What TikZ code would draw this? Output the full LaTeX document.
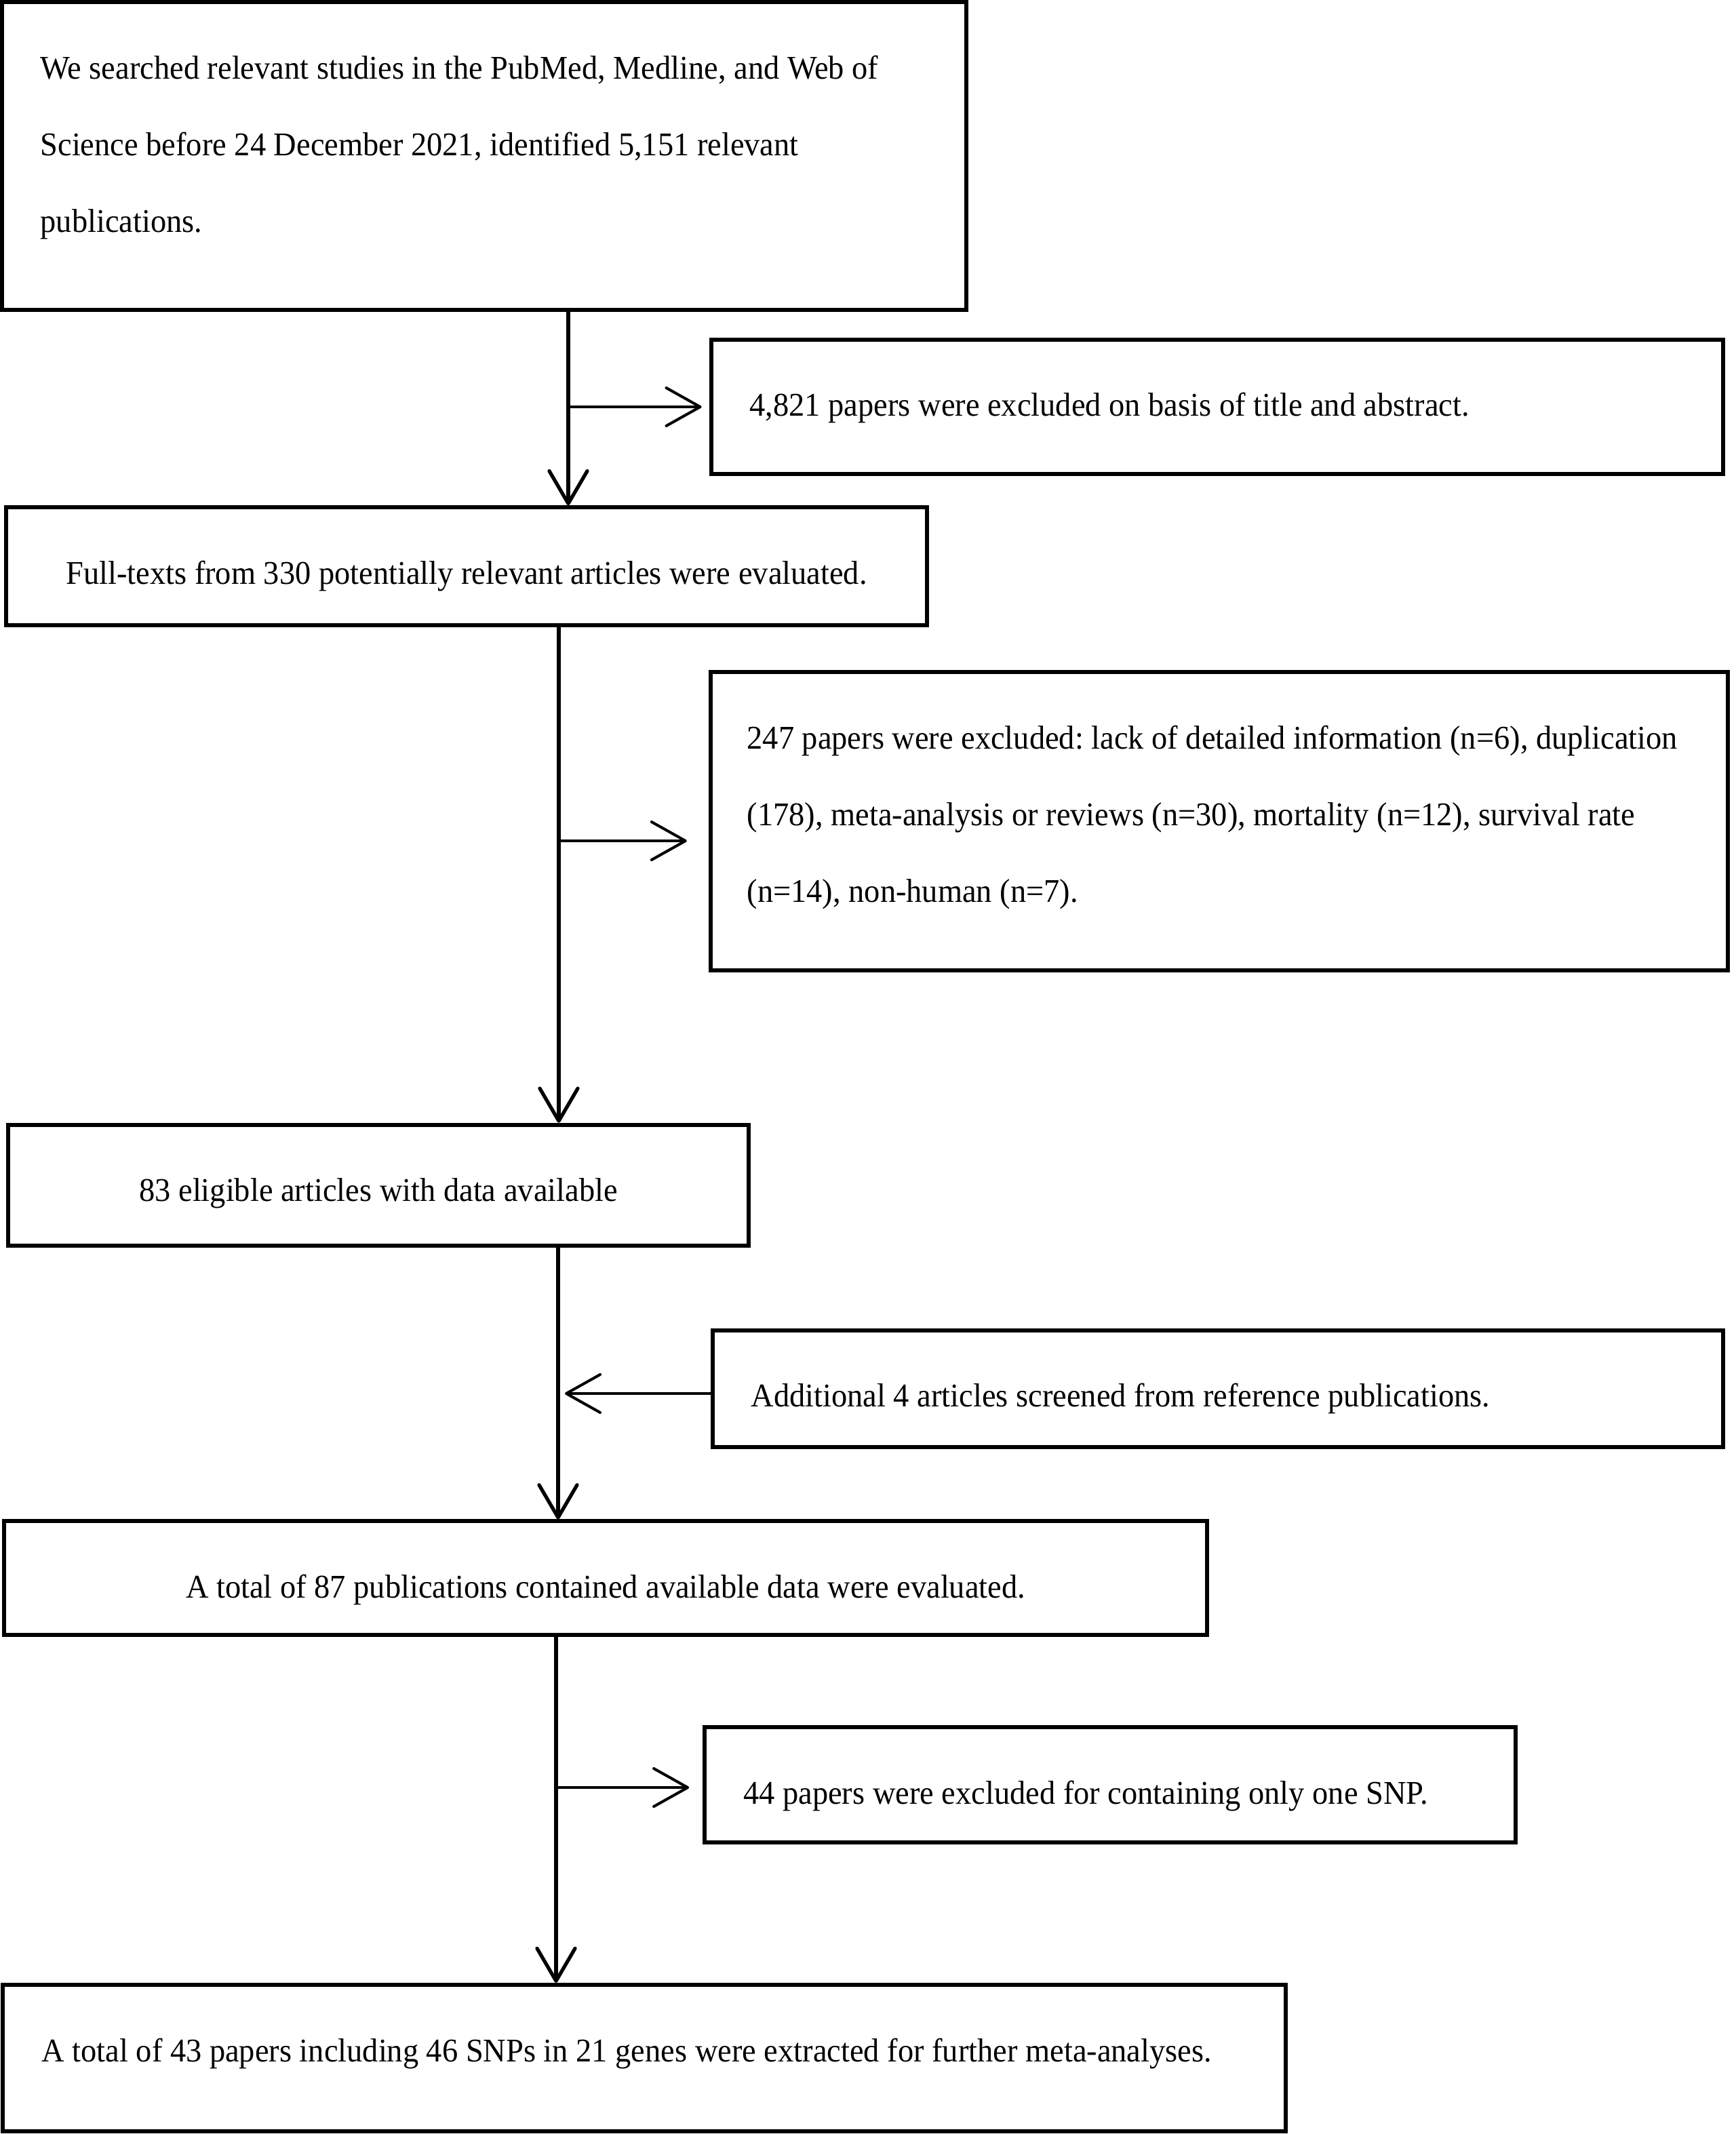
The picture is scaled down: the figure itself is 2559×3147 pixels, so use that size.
\documentclass[tikz,border=0pt]{standalone}
\usepackage{fontspec}
\setmainfont{Liberation Serif}[FakeStretch=0.95]
\usepackage{tikz}
\usetikzlibrary{arrows.meta,positioning,calc}
\hyphenpenalty=10000
\frenchspacing

\begin{document}
\begin{tikzpicture}[x=0.01cm,y=-0.01cm,
  box/.style={draw,line width=1.7pt,rectangle,inner sep=0pt,font=\fontsize{13.9}{32}\selectfont},
  leftbox/.style={box,align=flush left},
  midbox/.style={box,align=center},
  trunk/.style={line width=1.5pt,-{Straight Barb[length=4.8mm,width=5.6mm,round]}},
  branch/.style={line width=1.15pt,-{Straight Barb[length=5mm,width=5.6mm,round]}}]
  \useasboundingbox (0,0) rectangle (2559,3147);
  % boxes
  \node[leftbox,minimum width=14.22cm,minimum height=4.535cm,text width=13.08cm,text height=0pt,text depth=2.26cm] (search) at (714,230)
    {We searched relevant studies in the PubMed, Medline, and Web of\\Science before 24 December 2021, identified 5,151 relevant\\publications.};
  \node[leftbox,minimum width=14.92cm,minimum height=1.98cm,text width=13.78cm,text height=0.26cm,text depth=0pt] (excl1) at (1795,600)
    {4,821 papers were excluded on basis of title and abstract.};
  \node[midbox,minimum width=13.58cm,minimum height=1.735cm,text height=0.52cm,text depth=0pt] (fulltext) at (688,835)
    {Full-texts from 330 potentially relevant articles were evaluated.};
  \node[leftbox,minimum width=14.995cm,minimum height=4.395cm,text width=13.92cm,text height=0pt,text depth=2.12cm] (excl2) at (1798,1211)
    {247 papers were excluded: lack of detailed information (n=6), duplication\\(178), meta-analysis or reviews (n=30), mortality (n=12), survival rate\\(n=14), non-human (n=7).};
  \node[midbox,minimum width=10.905cm,minimum height=1.785cm,text height=0.46cm,text depth=0pt] (eligible) at (558,1748)
    {83 eligible articles with data available};
  \node[leftbox,minimum width=14.9cm,minimum height=1.72cm,text width=13.76cm,text height=0.52cm,text depth=0pt] (extra) at (1796,2048)
    {Additional 4 articles screened from reference publications.};
  \node[midbox,minimum width=17.72cm,minimum height=1.67cm,text height=0.58cm,text depth=0pt] (total87) at (893,2327)
    {A total of 87 publications contained available data were evaluated.};
  \node[leftbox,minimum width=11.95cm,minimum height=1.69cm,text width=10.81cm,text height=0.56cm,text depth=0pt] (excl3) at (1637,2632)
    {44 papers were excluded for containing only one SNP.};
  \node[leftbox,minimum width=18.9cm,minimum height=2.16cm,text width=17.76cm,text height=0.10cm,text depth=0pt] (final) at (950,3035)
    {A total of 43 papers including 46 SNPs in 21 genes were extracted for further meta-analyses.};
  % search -> full texts
  \coordinate (c1) at (838,600);
  \draw[trunk] (c1 |- search.south) -- (c1 |- fulltext.north);
  \draw[branch] (c1) -- ($(excl1.west |- c1)+(-11,0)$);
  % full texts -> eligible
  \coordinate (c2) at (824,1240);
  \draw[trunk] (c2 |- fulltext.south) -- (c2 |- eligible.north);
  \draw[branch] (c2) -- ($(excl2.west |- c2)+(-32,0)$);
  % eligible -> total 87
  \coordinate (c3) at (823,2055);
  \draw[trunk] (c3 |- eligible.south) -- (c3 |- total87.north);
  \draw[branch] (extra.west |- c3) -- ($(c3)+(10,0)$);
  % total 87 -> final
  \coordinate (c4) at (820,2636);
  \draw[trunk] (c4 |- total87.south) -- (c4 |- final.north);
  \draw[branch] (c4) -- ($(excl3.west |- c4)+(-20,0)$);
\end{tikzpicture}
\end{document}
